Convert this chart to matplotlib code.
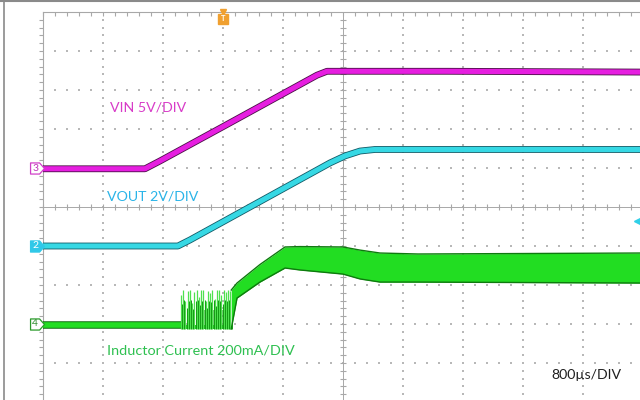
import numpy as np
import matplotlib
matplotlib.use('Agg')
import matplotlib.pyplot as plt
from matplotlib.path import Path

plt.rcParams['font.family'] = ['Lato', 'DejaVu Sans']

# 示波器设置：800us/DIV，触发点 t=0
# 通道零点（格）与每格刻度
CH3_POS, CH3_SCALE = 6.0, 5.0     # VIN, V/DIV
CH2_POS, CH2_SCALE = 4.0, 2.0     # VOUT, V/DIV
CH4_POS, CH4_SCALE = 2.0, 200.0   # 电感电流, mA/DIV

# VIN 波形（us, V）
vin_t = [-2400, -1040, -840, 0, 1253, 1387, 3000, 5560]
vin_v = [-0.1, -0.1, 0.9, 5.3, 11.9, 12.4, 12.4, 12.3]

# VOUT 波形（us, V）
vout_t = [-2400, -600, -440, 1427, 1627, 1827, 2027, 5560]
vout_v = [0.0, 0.0, 0.31, 4.26, 4.62, 4.87, 4.95, 4.95]

# 电感电流：启动前的平坦段（us, mA）
il_flat_t = [-2400, -560]
il_flat_i = [-5, -5]

# 电感电流：启动时的脉冲（us, mA）
spike_t = [-560, -530, -500, -470, -440, -410, -380, -350, -320, -290, -260, -230,
           -200, -170, -140, -110, -80, -50, -20, 10, 40, 70, 100]
spike_top = [150, 175, 120, 170, 175, 110, 165, 175, 140, 172, 175, 120,
             170, 160, 175, 130, 175, 172, 150, 175, 165, 175, 170]
spike_base = -25

# 电感电流：纹波包络（us, mA）
env_t = [110, 187, 493, 827, 1027, 1600, 1827, 2093, 2600, 5560]
env_top = [174, 210, 305, 395, 397, 395, 379, 364, 359, 364]
env_bot = [-26, 133, 215, 287, 277, 256, 231, 215, 215, 210]


def to_div(values, pos, scale):
    return pos + np.asarray(values, dtype=float) / scale


fig = plt.figure(figsize=(6.4, 4.0), dpi=100)
ax = fig.add_axes([0, 0, 1, 1])
ax.set_xlim(-2973, 5560)
ax.set_ylim(0.051, 10.308)
ax.axis('off')

# 外框（上、左）
ax.plot([0.007, 0.007], [0, 1], transform=ax.transAxes, color='#8a8a8a', lw=1.2)
ax.plot([0, 1], [0.998, 0.998], transform=ax.transAxes, color='#8a8a8a', lw=1.5)

# 栅格
grid_c = '#b8b8b8'
x_major = -2400 + 800 * np.arange(10)
for k, x in enumerate(x_major):
    if k in (0, 5):
        continue
    ys = np.arange(0.2, 10.0, 0.2)
    ax.scatter(np.full(ys.size, x), ys, s=1.0, marker='s', color=grid_c, lw=0)
for d in range(1, 10):
    if d == 5:
        continue
    xs = np.arange(-2400 + 160, 5560, 160)
    ax.scatter(xs, np.full(xs.size, d), s=1.0, marker='s', color=grid_c, lw=0)

edge_c = '#a8a8a8'
# 顶边与左边
ax.plot([-2400, 5560], [10, 10], color=edge_c, lw=0.8)
xt = np.arange(-2400, 5560, 160)
ax.plot(xt, np.full(xt.size, 10), ls='none', marker=3, ms=3, mew=0.8, color=edge_c)
ax.plot([-2400, -2400], [0.051, 10], color=edge_c, lw=0.8)
yt = np.arange(0.2, 10, 0.2)
ax.plot(np.full(yt.size, -2400), yt, ls='none', marker=0, ms=3, mew=0.8, color=edge_c)
# 中心十字
ax.plot([-2400, 5560], [5, 5], color=edge_c, lw=0.7)
ax.plot(xt, np.full(xt.size, 5), ls='none', marker='|', ms=5, mew=0.8, color=edge_c)
ax.plot([1600, 1600], [0.051, 10], color=edge_c, lw=0.7)
ax.plot(np.full(yt.size, 1600), yt, ls='none', marker='_', ms=5, mew=0.8, color=edge_c)

# VIN
vin_d = to_div(vin_v, CH3_POS, CH3_SCALE)
ax.plot(vin_t, vin_d, color='#4a1046', lw=4.9, solid_capstyle='butt', zorder=3)
ax.plot(vin_t, vin_d, color='#e61ee0', lw=3.7, solid_capstyle='butt', zorder=3)

# VOUT
vout_d = to_div(vout_v, CH2_POS, CH2_SCALE)
ax.plot(vout_t, vout_d, color='#125a66', lw=4.9, solid_capstyle='butt', zorder=3)
ax.plot(vout_t, vout_d, color='#36d8e4', lw=3.7, solid_capstyle='butt', zorder=3)

# 电感电流
ax.plot(il_flat_t, to_div(il_flat_i, CH4_POS, CH4_SCALE), color='#0c6a0c', lw=5.4,
        solid_capstyle='butt', zorder=3)
ax.plot(il_flat_t, to_div(il_flat_i, CH4_POS, CH4_SCALE), color='#22dd22', lw=4.0,
        solid_capstyle='butt', zorder=3)
ax.fill_between([-560, 110], to_div([-25, -25], CH4_POS, CH4_SCALE),
                to_div([-5, -5], CH4_POS, CH4_SCALE), color='#22cc22', lw=0, zorder=3)
ax.fill_between([-250, 110], to_div([-25, -25], CH4_POS, CH4_SCALE),
                to_div([70, 70], CH4_POS, CH4_SCALE), color='#1aa81a', alpha=0.6, lw=0, zorder=3)
ax.vlines(spike_t, CH4_POS + spike_base / CH4_SCALE, to_div(spike_top, CH4_POS, CH4_SCALE),
          color='#4ee04e', lw=0.9, zorder=3)
ax.vlines(np.array(spike_t) + 15, CH4_POS + spike_base / CH4_SCALE,
          to_div(np.array(spike_top) * 0.7, CH4_POS, CH4_SCALE),
          color='#139a13', lw=0.7, zorder=3)
top_d = to_div(env_top, CH4_POS, CH4_SCALE)
bot_d = to_div(env_bot, CH4_POS, CH4_SCALE)
ax.fill_between(env_t, bot_d, top_d, color='#22dd22', lw=0, zorder=3)
ax.plot(env_t, top_d, color='#0e7a0e', lw=1.0, zorder=3)
ax.plot(env_t, bot_d, color='#0e7a0e', lw=1.0, zorder=3)

# 通道标记
tag = Path([(-1, -0.8), (0.3, -0.8), (1, 0), (0.3, 0.8), (-1, 0.8), (-1, -0.8)],
           [Path.MOVETO] + [Path.LINETO] * 4 + [Path.CLOSEPOLY])
tag_x = -2485
ax.plot([tag_x], [CH3_POS], marker=tag, ms=10, mfc='white', mec='#d040c8', mew=0.9, zorder=6)
ax.text(tag_x - 20, CH3_POS, '3', color='#c030b8', fontsize=7.5, ha='center', va='center', zorder=7)
ax.plot([tag_x], [CH2_POS], marker=tag, ms=10, mfc='#30c8e8', mec='#30c8e8', mew=0.9, zorder=6)
ax.text(tag_x - 20, CH2_POS, '2', color='white', fontsize=7.5, ha='center', va='center', zorder=7)
ax.plot([tag_x], [CH4_POS], marker=tag, ms=10, mfc='white', mec='#2a9a2a', mew=0.9, zorder=6)
ax.text(tag_x - 20, CH4_POS, '4', color='#2a8a2a', fontsize=7.5, ha='center', va='center', zorder=7)

# 触发标记
ax.plot([0], [10.0], marker='v', ms=4, color='#f0a030', zorder=5)
ax.plot([0], [9.83], marker='s', ms=7, color='#f0a030', zorder=5)
ax.text(0, 9.83, 'T', color='white', fontsize=5.5, fontweight='bold', ha='center', va='center', zorder=6)
ax.plot([5525], [4.64], marker='<', ms=5, color='#30d0e8', zorder=5)

# 文字
ax.text(-1507, 7.54, 'VIN 5V/DIV', color='#d83cc8', fontsize=10.2, ha='left', va='center')
ax.text(-1547, 5.26, 'VOUT 2V/DIV', color='#2ab4e8', fontsize=10.2, ha='left', va='center')
ax.text(-1547, 1.33, 'Inductor Current 200mA/DIV', color='#2ec050', fontsize=10.4, ha='left', va='center')
ax.text(4373, 0.69, '800µs/DIV', color='#202020', fontsize=10.2, ha='left', va='center')

fig.savefig('out.png', dpi=100, facecolor='white')
